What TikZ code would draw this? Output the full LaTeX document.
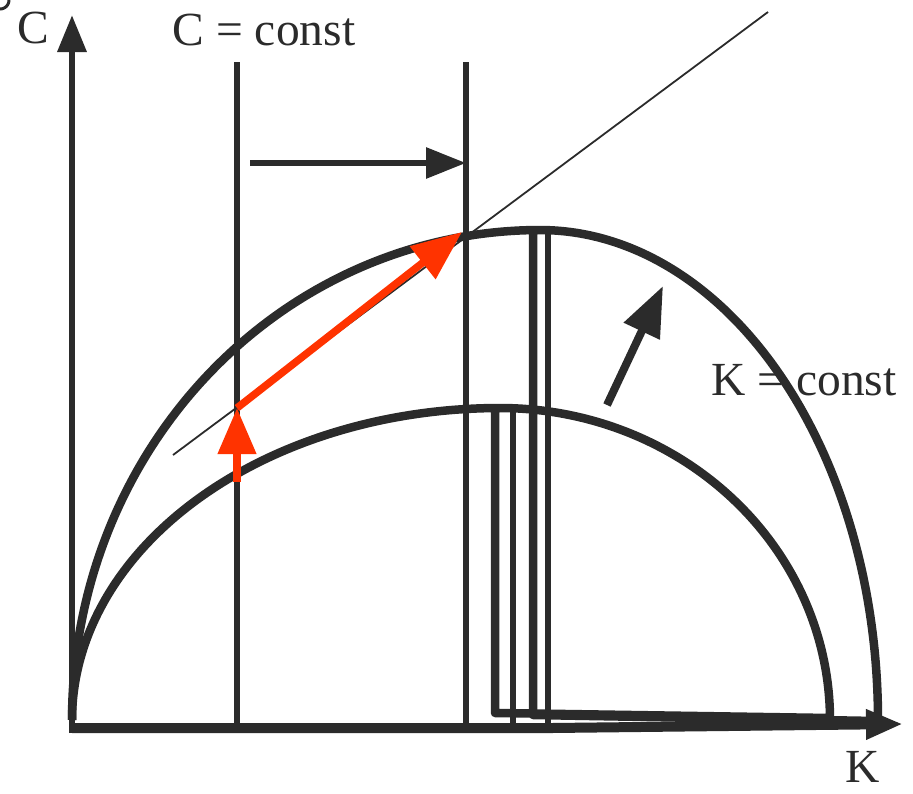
\documentclass[tikz,border=0pt]{standalone}
\usepackage{fontspec}
\setmainfont{Liberation Serif}
\usetikzlibrary{arrows.meta}
\definecolor{ink}{HTML}{2B2B2B}
\definecolor{redink}{HTML}{FF3300}
\begin{document}
\begin{tikzpicture}[x=1pt,y=-1pt,line join=round,
  axis/.style={draw=ink,line width=6.5pt,-{Triangle[length=37pt,width=28pt]}},
  vline/.style={draw=ink,line width=6pt},
  curve/.style={draw=ink,line width=8.5pt},
  rib/.style={draw=ink,line width=6.5pt},
  thin/.style={draw=ink,line width=1.8pt},
  shiftarrow/.style={draw=ink,line width=6pt,-{Triangle[length=40pt,width=30pt]}},
  redarrow/.style={draw=redink,line width=7.5pt,-{Triangle[length=46pt,width=37pt]}},
  redarrowb/.style={draw=redink,line width=7.5pt,-{Triangle[length=50pt,width=40pt]}},
  blkarrow/.style={draw=ink,line width=8pt,-{Triangle[length=50pt,width=38pt]}},
  lbl/.style={font=\fontsize{47.5}{56}\selectfont,text=ink,inner sep=0pt,anchor=base}]
\useasboundingbox (0,0) rectangle (913,793);

% coordinates
\coordinate (O) at (72,728);
\coordinate (Ytip) at (72,15);
\coordinate (Xtip) at (903,724);
\coordinate (V1t) at (237,62);
\coordinate (V1b) at (237,728);
\coordinate (V2t) at (466,62);
\coordinate (V2b) at (466,728);
\coordinate (Ha) at (250,163);
\coordinate (Hb) at (466,163);
\coordinate (Da) at (173,455);
\coordinate (Db) at (768,12);
\coordinate (R0) at (237,482);
\coordinate (R1) at (237,408);
\coordinate (R2) at (462,232);
\coordinate (Ba) at (607,405);
\coordinate (Bb) at (663,286);

% corner fragment
\draw[draw=ink,line width=3pt] plot[domain=0:90,samples=20,smooth] ({9*cos(\x)},{9*sin(\x)});

% thin diagonal
\draw[thin] (Da) -- (Db);

% vertical C = const lines
\draw[vline] (V1t) -- (V1b);
\draw[vline] (V2t) -- (V2b);

% lower curve with its closing path
\draw[curve] plot[domain=0:90,samples=80,smooth] ({500-428*cos(\x)},{720-312*sin(\x)})
  -- plot[domain=90:0,samples=80,smooth] ({500+330*cos(\x)},{720-312*sin(\x)})
  -- (830,718) -- (500,713) -- (495,713) -- (495,408);
\draw[rib] (513,408) -- (513,728);

% upper curve with its closing path
\draw[curve] plot[domain=0:90,samples=80,smooth] ({540-468*cos(\x)},{720-490*sin(\x)})
  -- plot[domain=90:0,samples=80,smooth] ({540+338*cos(\x)},{720-490*sin(\x)})
  -- (876,721) -- (533,715) -- (533,230);
\draw[rib] (548,230) -- (548,733);

% axes
\draw[axis] (72,733) -- (Ytip);
\draw[axis,line width=10pt] (O) -- (552,728) -- (Xtip);

% shift arrows
\draw[shiftarrow] (Ha) -- (Hb);
\draw[blkarrow] (Ba) -- (Bb);

% red arrows
\draw[redarrow] (R0) -- (R1);
\draw[redarrowb,line cap=butt] (R1) -- (R2);

% labels
\node[lbl] (lC) at (33,43) {C};
\node[lbl] (lCc) at (264,45) {C = const};
\node[lbl] (lKc) at (804,395) {K = const};
\node[lbl] (lK) at (863,782) {K};
\end{tikzpicture}
\end{document}
